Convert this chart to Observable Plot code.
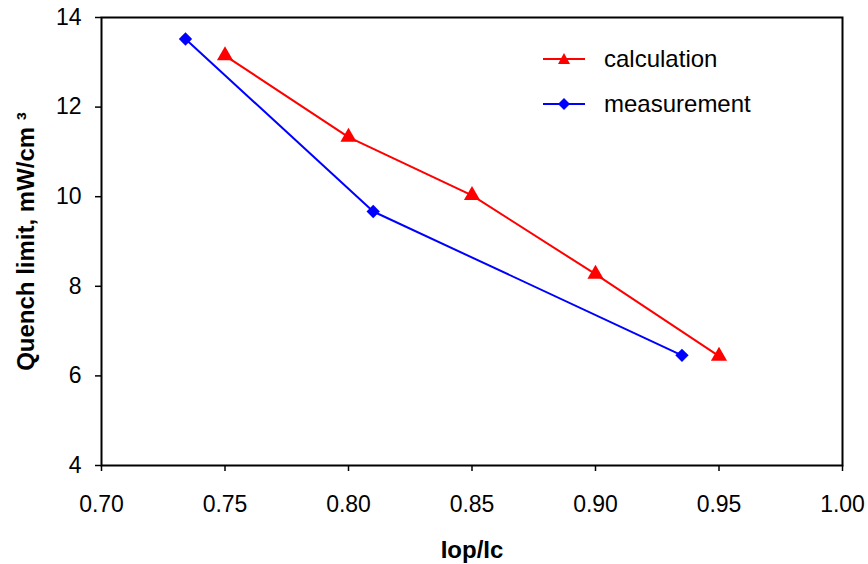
<!DOCTYPE html>
<html>
<head>
<meta charset="utf-8">
<script src="https://cdn.jsdelivr.net/npm/d3@7"></script>
<script src="https://cdn.jsdelivr.net/npm/@observablehq/plot@0.6"></script>
<style>
  html, body { margin: 0; padding: 0; background: #fff; }
  #wrap { position: relative; width: 868px; height: 564px; font-family: "Liberation Sans", Arial, sans-serif; }
  .legend { position: absolute; left: 542px; top: 36px; font-size: 24px; color: #000; }
  .legend .row { display: flex; align-items: center; height: 45px; }
  .legend svg { margin-right: 18px; }
</style>
</head>
<body>
<div id="wrap"></div>
<script>
const calcX = [0.75, 0.80, 0.85, 0.90, 0.95];
const calcY = [13.15, 11.33, 10.03, 8.27, 6.44];
const measX = [0.734, 0.810, 0.935];
const measY = [13.52, 9.67, 6.46];
const xTicks = [0.70, 0.75, 0.80, 0.85, 0.90, 0.95, 1.00];
const yTicks = [4, 6, 8, 10, 12, 14];
const seriesNames = ["calculation", "measurement"];
const seriesColors = ["#ff0000", "#0000ff"];

const calc = calcX.map((x, i) => ({x, y: calcY[i]}));
const meas = measX.map((x, i) => ({x, y: measY[i]}));

const chart = Plot.plot({
  width: 868,
  height: 564,
  marginLeft: 101,
  marginRight: 26,
  marginTop: 17,
  marginBottom: 99,
  style: {fontFamily: "'Liberation Sans', Arial, sans-serif", fontSize: "23px", color: "#000", background: "#fff"},
  x: {domain: [0.70, 1.00]},
  y: {domain: [4, 14]},
  marks: [
    Plot.frame({stroke: "#000", strokeWidth: 2}),
    Plot.axisX(xTicks, {tickFormat: d3.format(".2f"), tickSize: 6, tickPadding: 24, label: null, strokeWidth: 1.5, fontSize: 23}),
    Plot.axisY(yTicks, {tickSize: 6, tickPadding: 14, label: null, strokeWidth: 1.5, fontSize: 23}),
    Plot.line(calc, {x: "x", y: "y", stroke: seriesColors[0], strokeWidth: 2}),
    Plot.dot(calc, {x: "x", y: "y", symbol: "triangle", r: 6, fill: seriesColors[0], stroke: null}),
    Plot.line(meas, {x: "x", y: "y", stroke: seriesColors[1], strokeWidth: 2}),
    Plot.dot(meas, {x: "x", y: "y", symbol: "diamond2", r: 6, fill: seriesColors[1], stroke: null}),
    Plot.text(["Iop/Ic"], {frameAnchor: "bottom", lineAnchor: "middle", textAnchor: "middle", dy: 85, fontWeight: "bold", fontSize: 24}),
    Plot.text(["Quench limit, mW/cm ³"], {frameAnchor: "left", textAnchor: "middle", lineAnchor: "middle", rotate: -90, dx: -75, fontWeight: "bold", fontSize: 24})
  ]
});
const wrap = document.getElementById("wrap");
wrap.appendChild(chart);

const legend = document.createElement("div");
legend.className = "legend";
const shapes = [
  '<polygon points="22,2 28,13 16,13" fill="#ff0000"/>',
  '<polygon points="22,2 28,8 22,14 16,8" fill="#0000ff"/>'
];
seriesNames.forEach((name, i) => {
  const row = document.createElement("div");
  row.className = "row";
  row.innerHTML = `<svg width="44" height="16"><line x1="1" y1="8" x2="43" y2="8" stroke="${seriesColors[i]}" stroke-width="2"/>${shapes[i]}</svg><span>${name}</span>`;
  legend.appendChild(row);
});
wrap.appendChild(legend);
</script>
</body>
</html>
